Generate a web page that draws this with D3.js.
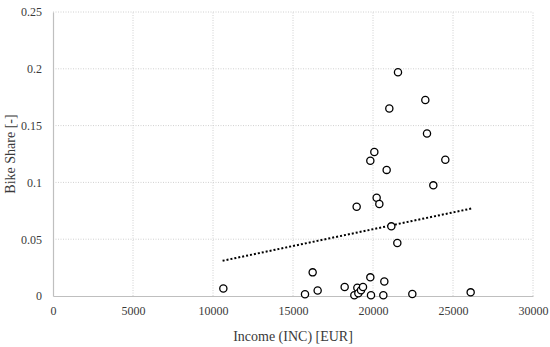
<!DOCTYPE html>
<html><head><meta charset="utf-8">
<script src="https://cdn.jsdelivr.net/npm/d3@7"></script>
<style>body{margin:0;background:#fff}svg{display:block}</style>
</head><body>
<svg id="chart" width="550" height="347"></svg>
<script>
const income = [10646,15750,16229,16541,18229,18833,18979,19021,19083,19250,19375,19833,19833,19875,20083,20229,20396,20646,20708,20854,21020,21146,21520,21562,22458,23270,23375,23770,24520,26104];
const bikeShare = [0.0066,0.0015,0.0208,0.0048,0.0079,0.0006,0.0786,0.0073,0.0024,0.005,0.0079,0.119,0.0164,0.0006,0.1268,0.0865,0.081,0.0006,0.0127,0.111,0.165,0.0613,0.0467,0.197,0.0018,0.1725,0.143,0.0974,0.12,0.0032];
const trendX = [10600, 26150];
const trendY = [0.031, 0.077];
const xTicks = [0,5000,10000,15000,20000,25000,30000];
const yTicks = [0,0.05,0.1,0.15,0.2,0.25];
const xLabel = "Income (INC) [EUR]";
const yLabel = "Bike Share [-]";

const svg = d3.select("#chart");
const m = {l:53, r:17, t:12, b:51};
const W = 550, H = 347;
const x = d3.scaleLinear().domain([0,30000]).range([m.l, W-m.r]);
const y = d3.scaleLinear().domain([0,0.25]).range([H-m.b, m.t]);
const font = "'Liberation Serif', 'DejaVu Serif', serif";

// gridlines
svg.append("g").selectAll("line").data(yTicks.filter(d=>d>0)).join("line")
  .attr("x1", x(0)).attr("x2", x(30000)).attr("y1", d=>y(d)).attr("y2", d=>y(d))
  .attr("stroke","#d0d0d0").attr("stroke-width",1).attr("stroke-dasharray","1,1.5");
svg.append("g").selectAll("line").data(xTicks.filter(d=>d>0)).join("line")
  .attr("y1", y(0)).attr("y2", y(0.25)).attr("x1", d=>x(d)).attr("x2", d=>x(d))
  .attr("stroke","#d0d0d0").attr("stroke-width",1).attr("stroke-dasharray","1,1.5");

// axes
const xAxis = d3.axisBottom(x).tickValues(xTicks).tickSize(0).tickPadding(10).tickFormat(d3.format("d"));
const yAxis = d3.axisLeft(y).tickValues(yTicks).tickSize(0).tickPadding(11).tickFormat(d=>String(+d.toFixed(2)));
const gx = svg.append("g").attr("transform",`translate(0,${y(0)})`).call(xAxis);
const gy = svg.append("g").attr("transform",`translate(${x(0)},0)`).call(yAxis);
[gx,gy].forEach(g=>{
  g.select(".domain").attr("stroke","#bfbfbf").attr("stroke-width",1.2);
  g.selectAll("text").attr("font-family",font).attr("font-size",12).attr("fill","#3a3a3a");
});

// trendline
svg.append("line")
  .attr("x1",x(trendX[0])).attr("y1",y(trendY[0]))
  .attr("x2",x(trendX[1])).attr("y2",y(trendY[1]))
  .attr("stroke","#000").attr("stroke-width",2).attr("stroke-dasharray","2,2");

// points
svg.append("g").selectAll("circle").data(income.map((v,i)=>[v,bikeShare[i]])).join("circle")
  .attr("cx",d=>x(d[0])).attr("cy",d=>y(d[1])).attr("r",3.6)
  .attr("fill","#fff").attr("stroke","#000").attr("stroke-width",1.3);

// titles
svg.append("text").attr("x",(x(0)+x(30000))/2).attr("y",341).attr("text-anchor","middle")
  .attr("font-family",font).attr("font-size",14).attr("fill","#3a3a3a").text(xLabel);
svg.append("text").attr("transform",`translate(15,${(y(0)+y(0.25))/2}) rotate(-90)`).attr("text-anchor","middle")
  .attr("font-family",font).attr("font-size",14).attr("fill","#3a3a3a").text(yLabel);
</script>
</body></html>
